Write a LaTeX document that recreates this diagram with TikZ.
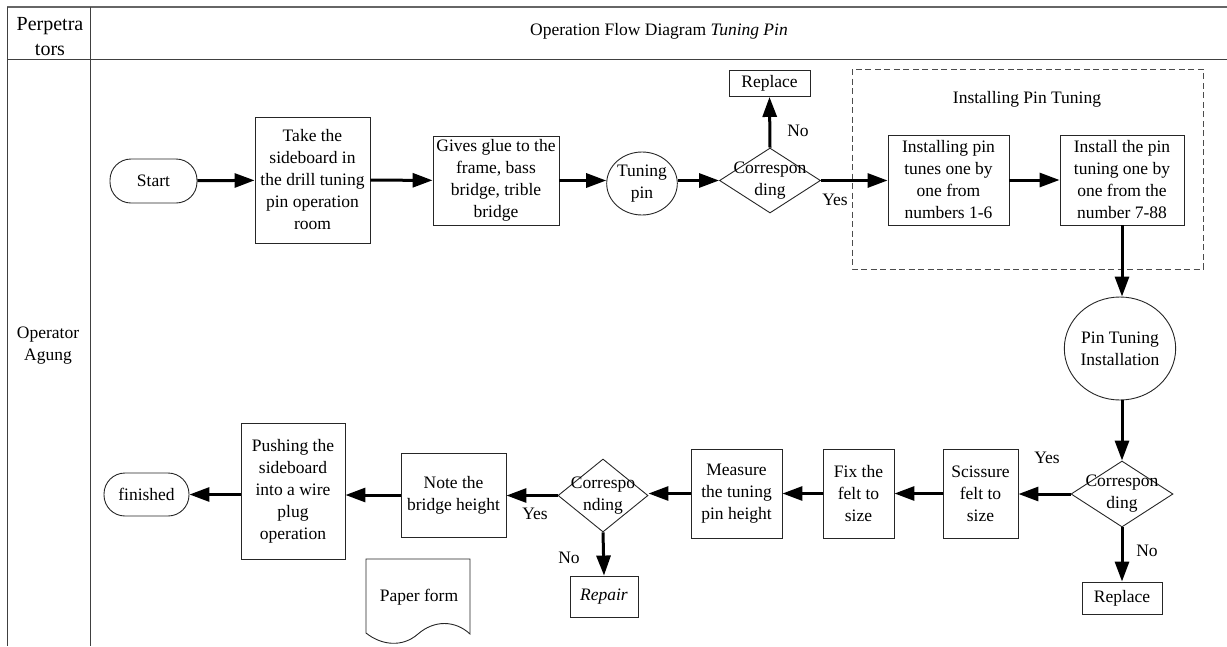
\documentclass[tikz,border=0pt]{standalone}
\usepackage{fontspec}
\setmainfont{Liberation Serif}
\usetikzlibrary{arrows.meta,shapes.geometric}

\tikzset{
  every node/.style={font=\fontsize{17.5}{22}\selectfont},
  proc/.style={draw=black!85, line width=0.9pt, rectangle, inner sep=1pt, align=center},
  term/.style={draw=black!85, line width=0.9pt, rectangle, rounded corners=21pt, inner sep=0pt, align=center},
  conn/.style={draw=black!85, line width=0.9pt, ellipse, inner sep=0pt, align=center},
  dec/.style={draw=black!85, line width=0.9pt, diamond, inner sep=0pt},
  flow/.style={line width=3pt, -{Triangle[length=20pt,width=14pt]}},
  grid/.style={draw=black!75, line width=1pt},
  lbl/.style={inner sep=0pt, align=center}
}

\begin{document}
\begin{tikzpicture}[x=1pt,y=-1pt]
\useasboundingbox (0,0) rectangle (1227,646);

% swimlane table
\draw[draw=black!60, line width=2.5pt] (7,7) -- (1227,7);
\draw[grid] (7,7) -- (7,646);
\draw[grid] (90,7) -- (90,646);
\draw[grid] (7,59) -- (1227,59);
\node[lbl, font=\fontsize{20}{25}\selectfont] (hdr) at (50,37) {Perpetra\\tors};
\node[lbl] (title) at (659,31) {Operation Flow Diagram \textit{Tuning Pin}};
\node[lbl] (actor) at (48,346) {Operator\\Agung};

% installing group
\draw[dash pattern=on 6pt off 3.5pt, draw=black!70, line width=0.9pt] (852,69) rectangle (1203,269);
\node[lbl] (grp) at (1027,99) {Installing Pin Tuning};

% top row
\node[term, minimum width=87pt, minimum height=44pt] (start) at (153.5,181) {Start};
\node[proc, minimum width=115pt, minimum height=126pt] (take) at (312.5,180) {Take the\\sideboard in\\the drill tuning\\pin operation\\room};
\node[proc, minimum width=126pt, minimum height=89pt] (glue) at (496,180.5) {Gives glue to the\\frame, bass\\bridge, trible\\bridge};
\node[conn, minimum width=68pt, minimum height=63pt] (tpin) at (642,183.5) {Tuning\\pin};
\node[dec, minimum width=101pt, minimum height=65pt,
      label={[lbl]center:Correspon\\ding}] (dec1) at (770,180.5) {};
\node[proc, minimum width=81pt, minimum height=26pt] (rep1) at (769.5,83.5) {Replace};
\node[proc, minimum width=121pt, minimum height=90pt] (inst1) at (948.5,180) {Installing pin\\tunes one by\\one from\\numbers 1-6};
\node[proc, minimum width=124pt, minimum height=90pt] (inst2) at (1122,180) {Install the pin\\tuning one by\\one from the\\number 7-88};

% right column
\node[conn, minimum width=89pt, minimum height=103pt] (pti) at (1120,348.5) {Pin Tuning\\Installation};
\node[dec, minimum width=102pt, minimum height=66pt,
      label={[lbl]center:Correspon\\ding}] (dec2) at (1122,494) {};
\node[proc, minimum width=80pt, minimum height=32pt] (rep2) at (1122,598) {Replace};

% bottom row
\node[proc, minimum width=75pt, minimum height=89pt] (sciss) at (980.5,493.5) {Scissure\\felt to\\size};
\node[proc, minimum width=71pt, minimum height=89pt] (fix) at (858.5,493.5) {Fix the\\felt to\\size};
\node[proc, minimum width=91pt, minimum height=89pt] (meas) at (736.5,493.5) {Measure\\the tuning\\pin height};
\node[dec, minimum width=90pt, minimum height=73pt,
      label={[lbl]center:Correspo\\nding}] (dec3) at (603,495.5) {};
\node[proc, minimum width=68pt, minimum height=41pt] (repair) at (604,596.5) {\textit{Repair}};
\node[proc, minimum width=105pt, minimum height=84pt] (note) at (453.5,495) {Note the\\bridge height};
\node[proc, minimum width=104pt, minimum height=136pt] (push) at (293,491) {Pushing the\\sideboard\\into a wire\\plug\\operation};
\node[term, minimum width=85pt, minimum height=43pt] (fin) at (146.5,494.5) {finished};

% paper document
\coordinate (pa) at (366,559);
\coordinate (pb) at (470,559);
\coordinate (pc) at (470,634);
\coordinate (pd) at (418,634);
\coordinate (pe) at (366,633);
\draw[draw=black!85, line width=0.9pt] (pe) -- (pa) -- (pb) -- (pc)
  .. controls (455,620) and (434,620) .. (pd)
  .. controls (402,648) and (381,645) .. (pe);
\node[lbl] (paper) at (419,597) {Paper form};

% connectors
\draw[flow] (start) -- (take);
\draw[flow] (take) -- (glue);
\draw[flow] (glue.east) -- (tpin.west |- glue.east);
\draw[flow] (tpin.east |- dec1.west) -- (dec1.west);
\draw[flow] (dec1.north) -- (rep1.south);
\draw[flow] (dec1.east) -- (inst1.west |- dec1.east);
\draw[flow] (inst1) -- (inst2);
\draw[flow] (inst2.south) -- (inst2.south |- pti.north);
\draw[flow] (inst2.south |- pti.south) -- (dec2.north);
\draw[flow] (dec2.west) -- (sciss.east |- dec2.west);
\draw[flow] (dec2.south) -- (rep2.north);
\draw[flow] (sciss) -- (fix);
\draw[flow] (fix) -- (meas);
\draw[flow] (meas.west) -- (dec3.east |- meas.west);
\draw[flow] (dec3.west) -- (note.east |- dec3.west);
\draw[flow] (dec3.south) -- (repair.north);
\draw[flow] (note.west) -- (push.east |- note.west);
\draw[flow] (push.west |- fin.east) -- (fin.east);

% branch labels
\node[lbl] (no1) at (798,131) {No};
\node[lbl] (yes1) at (835,200) {Yes};
\node[lbl] (yes2) at (1047,458) {Yes};
\node[lbl] (no2) at (1147,551) {No};
\node[lbl] (yes3) at (535,514) {Yes};
\node[lbl] (no3) at (569,558) {No};
\end{tikzpicture}
\end{document}
